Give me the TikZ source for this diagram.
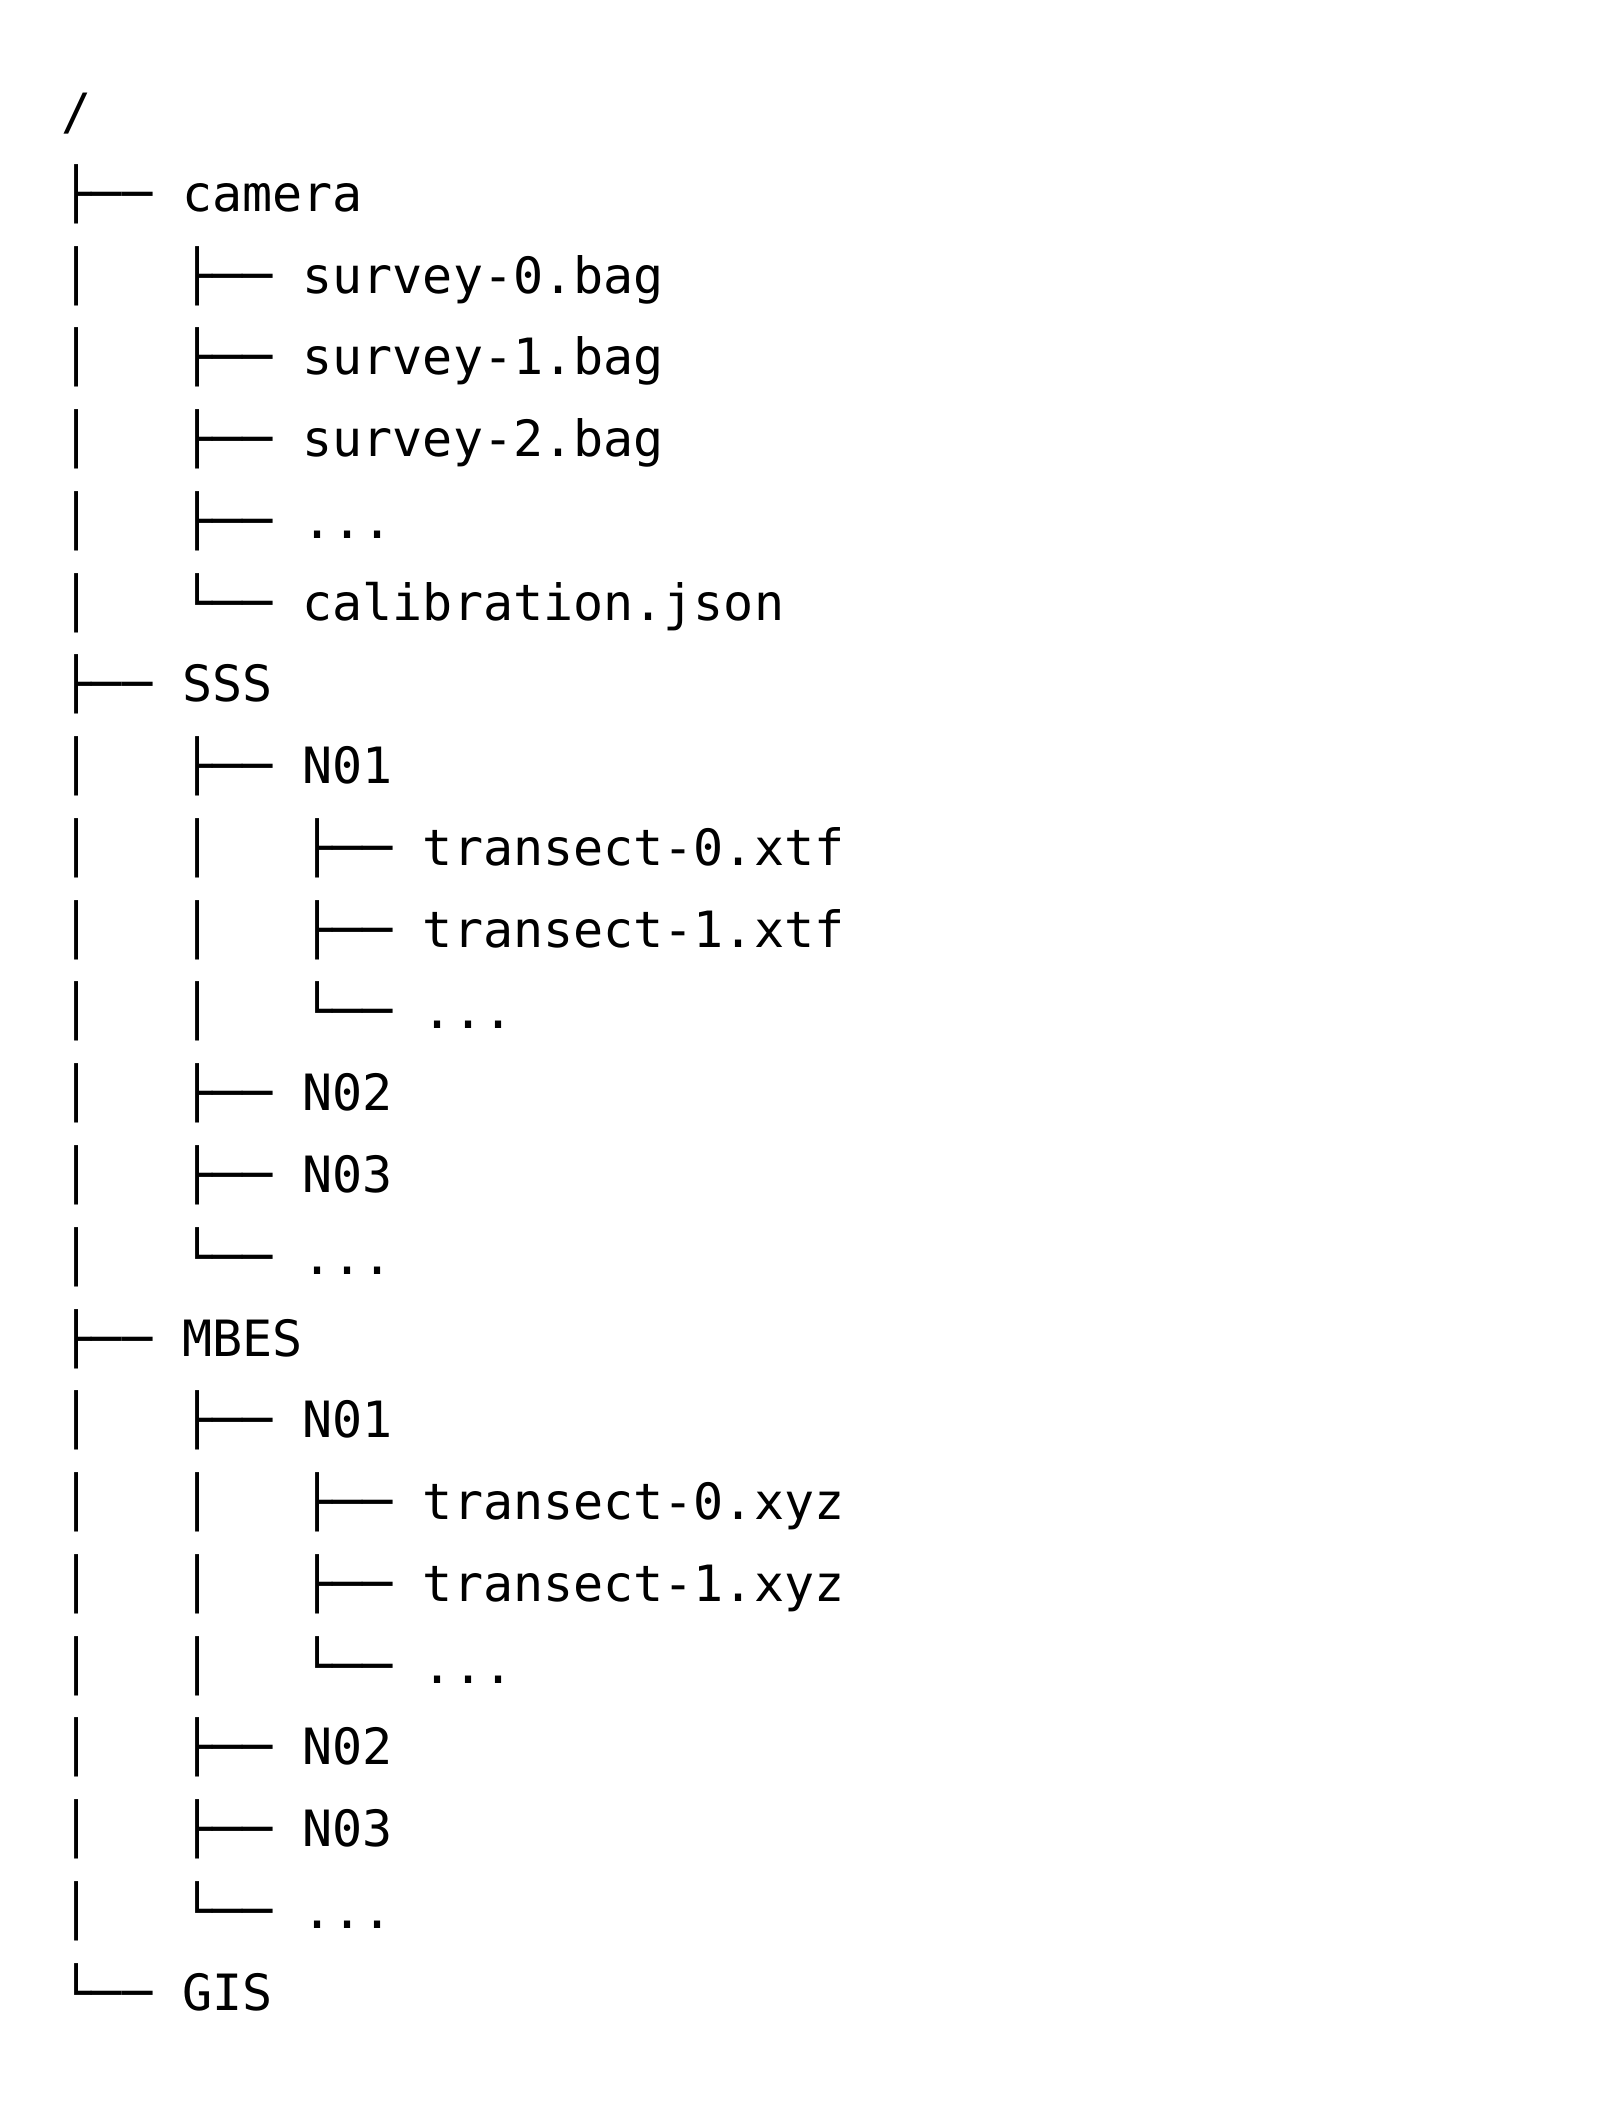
\documentclass[tikz,border=0pt]{standalone}
\usepackage{fontspec}
\setmonofont{DejaVu Sans Mono}
\newcommand{\treedots}{...}
\tikzset{treerow/.style={anchor=base west, inner sep=0pt, font=\ttfamily\fontsize{25pt}{41pt}\selectfont}}
\begin{document}
\begin{tikzpicture}
  \def\rowx{30.7pt} \def\rowy{-64.8pt} \def\rowsep{40.88pt}
  \useasboundingbox (0,0) rectangle (810pt,-1053pt);
  \node[treerow] (row0) at (\rowx,\rowy) {/};
  \foreach \txt [count=\i] in {%
      {├──~camera},
      {│~~~├──~survey-0.bag},
      {│~~~├──~survey-1.bag},
      {│~~~├──~survey-2.bag},
      {│~~~├──~\treedots},
      {│~~~└──~calibration.json},
      {├──~SSS},
      {│~~~├──~N01},
      {│~~~│~~~├──~transect-0.xtf},
      {│~~~│~~~├──~transect-1.xtf},
      {│~~~│~~~└──~\treedots},
      {│~~~├──~N02},
      {│~~~├──~N03},
      {│~~~└──~\treedots},
      {├──~MBES},
      {│~~~├──~N01},
      {│~~~│~~~├──~transect-0.xyz},
      {│~~~│~~~├──~transect-1.xyz},
      {│~~~│~~~└──~\treedots},
      {│~~~├──~N02},
      {│~~~├──~N03},
      {│~~~└──~\treedots},
      {└──~GIS}}
    \node[treerow] (row\i) at ({\rowx},{\rowy-\i*\rowsep}) {\txt};
\end{tikzpicture}
\end{document}
